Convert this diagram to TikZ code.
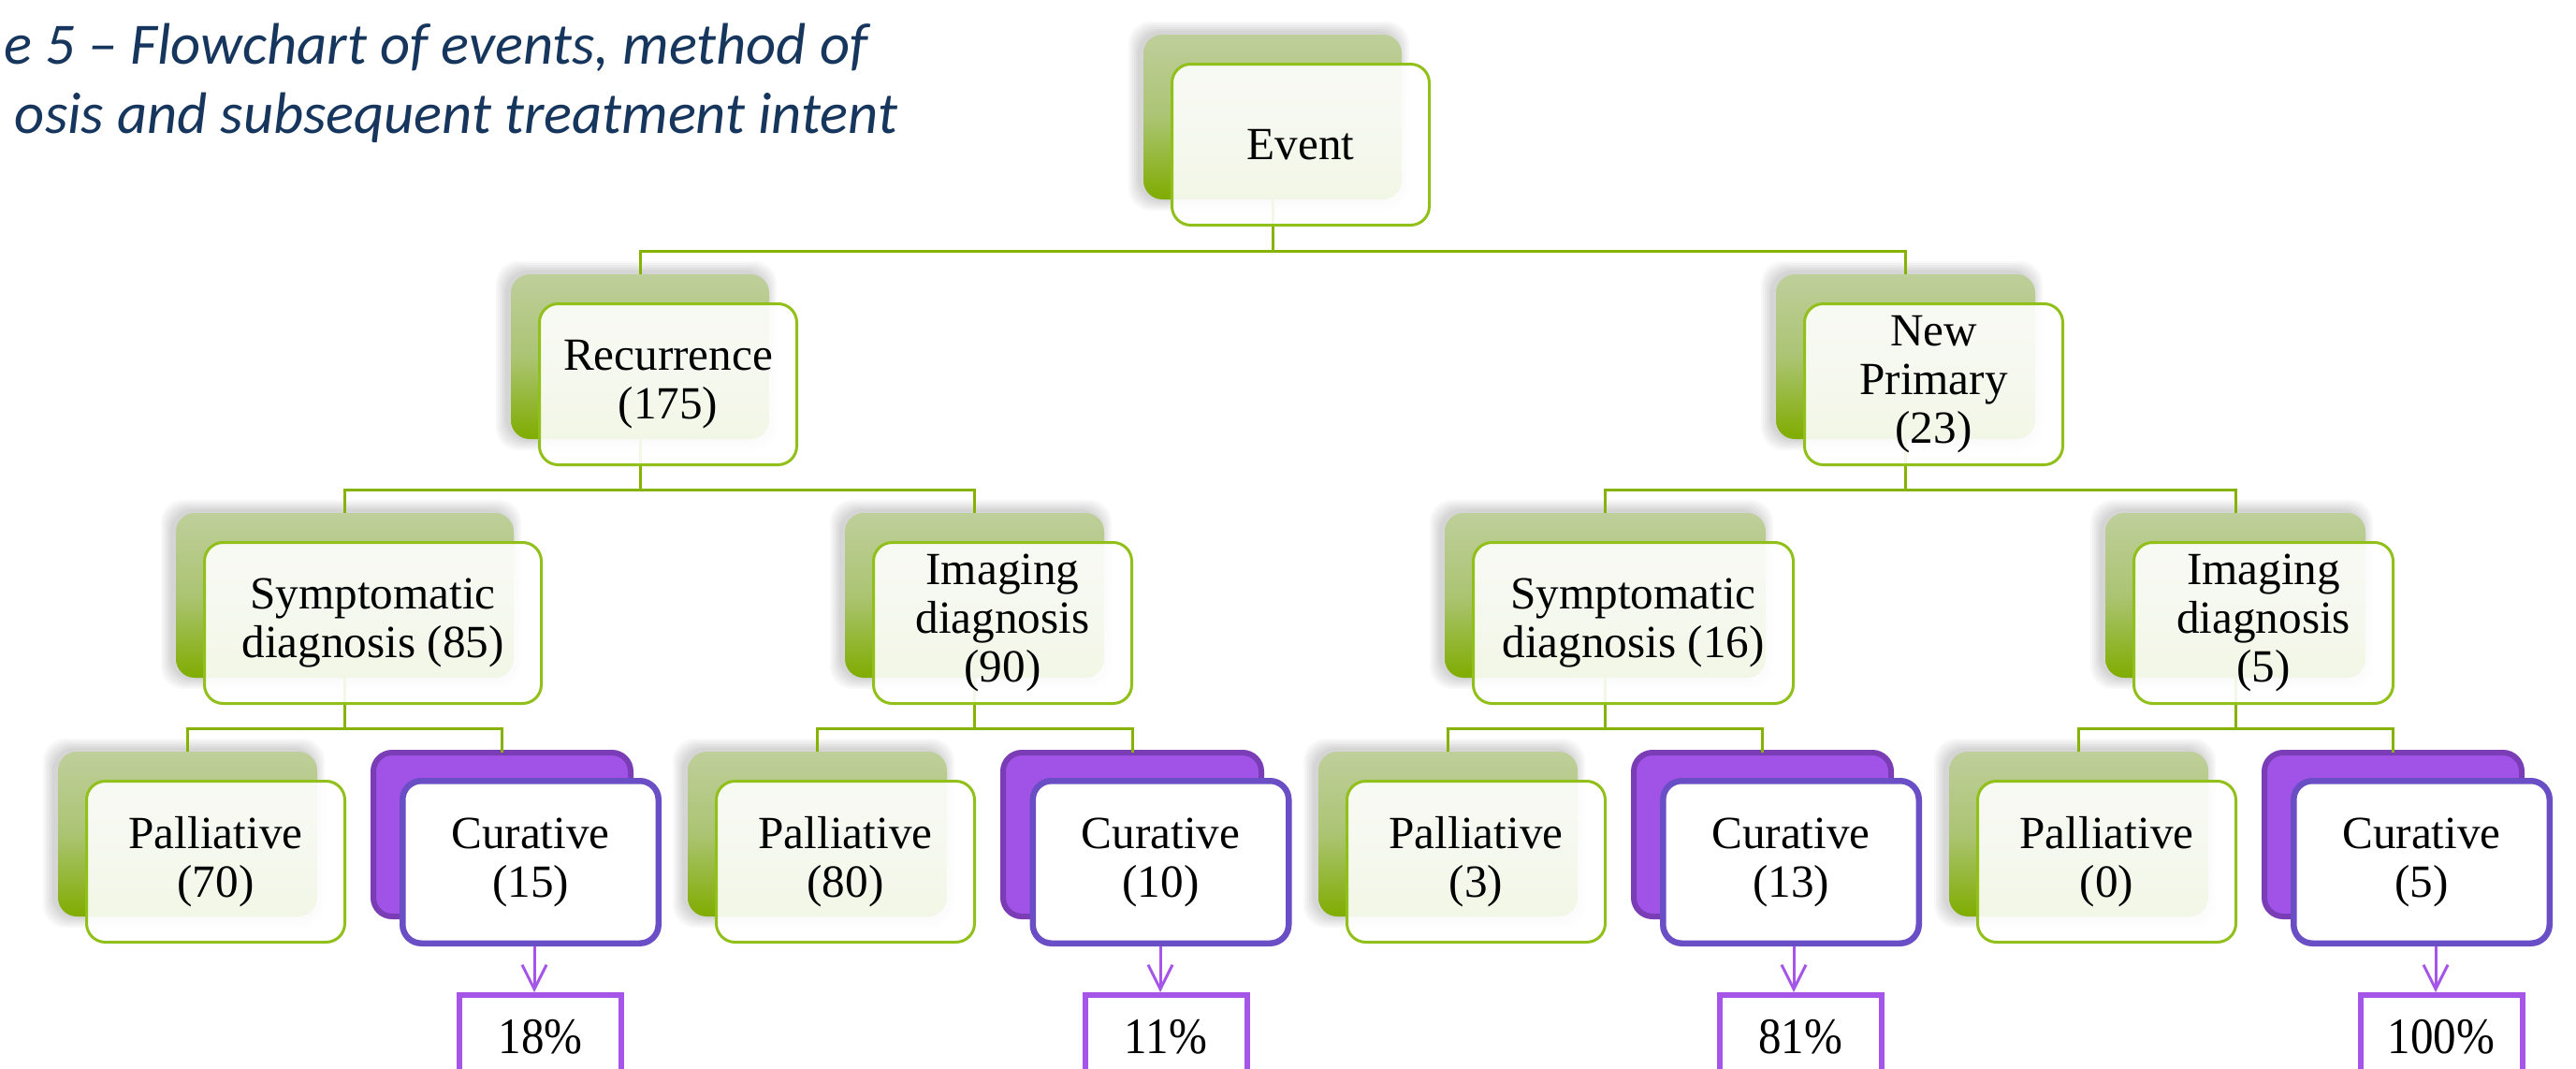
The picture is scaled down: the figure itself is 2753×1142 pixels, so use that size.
\documentclass[tikz,border=0pt]{standalone}
\usepackage{fontspec}
\setmainfont{Liberation Serif}
\newfontfamily\titlefont{Carlito}
\newfontfamily\pctfont{Liberation Serif}[FakeStretch=0.9]
\usetikzlibrary{arrows.meta}
\definecolor{gtop}{HTML}{BFCF9B}
\definecolor{gmid}{HTML}{ABC473}
\definecolor{gbot}{HTML}{7FAC00}
\definecolor{gborder}{HTML}{92C01A}
\definecolor{gline}{HTML}{86B300}
\definecolor{pfill}{HTML}{A053E6}
\definecolor{pborder}{HTML}{7A3DB6}
\definecolor{pfborder}{HTML}{6A4EC6}
\definecolor{pct}{HTML}{A556E8}
\definecolor{titlecol}{HTML}{17365D}
\newcommand\gb[4]{%
  \foreach \s in {1,...,6}{\fill[black,opacity=0.028,rounded corners=2.4mm] ({#2-#4/2-4-2*\s},{#3-88-2-2*\s}) rectangle ({#2+#4/2-4+2*\s},{#3+88+2*\s});}
  \node[gback, minimum width=#4*0.1mm] (b#1) at (#2,#3) {};}
\newcommand\pb[4]{\node[pback, minimum width=#4*0.1mm] (b#1) at (#2,#3) {};}
\newcommand\gf[3]{\node[gfront, minimum width={(#2-1)*0.1mm}] (f#1) at ([xshift=3mm,yshift=-2.95mm]b#1.center) {#3};}
\newcommand\pf[2]{\node[pfront] (f#1) at ([xshift=3.05mm,yshift=-2.95mm]b#1.center) {#2};}
\newcommand\conn[3]{%
  \draw[conn] (b#1.south) |- ([yshift=2.5mm]b#2.north) -- (b#2.north);
  \draw[conn] ([yshift=2.5mm]b#2.north) -| (b#3.north);}
\begin{document}
\begin{tikzpicture}[x=0.1mm,y=-0.1mm,
  gback/.style={rounded corners=2mm, inner sep=0pt, outer sep=0pt, minimum height=17.6mm,
    top color=gtop, bottom color=gbot, middle color=gmid},
  pback/.style={draw=pborder, line width=0.6mm, fill=pfill, rounded corners=2mm,
    inner sep=0pt, outer sep=0pt, minimum height=17.5mm},
  gfront/.style={draw=gborder, line width=0.3mm, fill=white, fill opacity=0.9, text opacity=1,
    rounded corners=2mm, inner sep=0pt, minimum height=17.2mm, align=center,
    font=\fontsize{14}{14.8}\selectfont},
  pfront/.style={draw=pfborder, line width=0.65mm, fill=white, rounded corners=2mm,
    inner sep=0pt, minimum width=27.35mm, minimum height=17.35mm, align=center,
    font=\fontsize{14}{14.8}\selectfont},
  conn/.style={draw=gline, line width=0.3mm},
  arr/.style={draw=pct, line width=0.3mm, -{Straight Barb[length=2.6mm,width=2.6mm,line width=0.3mm]}},
  pctbox/.style={draw=pct, line width=0.6mm, fill=white, inner sep=0pt, anchor=north,
    minimum width=17.3mm, minimum height=9mm, font=\pctfont\fontsize{15.5}{16}\selectfont},
  title/.style={text=titlecol, inner sep=0pt, anchor=base east,
    font=\titlefont\itshape\fontsize{17.8}{20}\selectfont}]
\useasboundingbox (0,0) rectangle (2753,1142);
\clip (0,0) rectangle (2753,1142);
\fill[white] (0,0) rectangle (2753,1142);
% back boxes
\gb{Ev}{1360}{125}{276}
\gb{Rec}{684}{381}{276}
\gb{NP}{2036.5}{381}{277}
\gb{S85}{368.5}{636}{361}
\gb{I90}{1041.5}{636}{277}
\gb{S16}{1715.5}{636}{343}
\gb{I5}{2389}{636}{278}
\gb{P70}{200.5}{891}{277}
\pb{C15}{536.5}{891.5}{275}
\gb{P80}{873.5}{891}{277}
\pb{C10}{1210}{891.5}{276}
\gb{P3}{1547.5}{891}{277}
\pb{C13}{1883.5}{891.5}{275}
\gb{P0}{2221.5}{891}{277}
\pb{C5}{2557.5}{891.5}{275}
% connectors
\conn{Ev}{Rec}{NP}
\conn{Rec}{S85}{I90}
\conn{NP}{S16}{I5}
\conn{S85}{P70}{C15}
\conn{I90}{P80}{C10}
\conn{S16}{P3}{C13}
\conn{I5}{P0}{C5}
% front boxes
\gf{Ev}{276}{Event}
\gf{Rec}{276}{Recurrence\\(175)}
\gf{NP}{277}{New\\Primary\\(23)}
\gf{S85}{361}{Symptomatic\\diagnosis (85)}
\gf{I90}{277}{Imaging\\diagnosis\\(90)}
\gf{S16}{343}{Symptomatic\\diagnosis (16)}
\gf{I5}{278}{Imaging\\diagnosis\\(5)}
\gf{P70}{277}{Palliative\\(70)}
\pf{C15}{Curative\\(15)}
\gf{P80}{277}{Palliative\\(80)}
\pf{C10}{Curative\\(10)}
\gf{P3}{277}{Palliative\\(3)}
\pf{C13}{Curative\\(13)}
\gf{P0}{277}{Palliative\\(0)}
\pf{C5}{Curative\\(5)}
% percentage boxes
\node[pctbox] (p1) at (577.5,1060) {18\%};
\node[pctbox] (p2) at (1246,1060) {11\%};
\node[pctbox] (p3) at (1924,1060) {81\%};
\node[pctbox] (p4) at (2609,1060) {100\%};
\coordinate (a1) at (571,0);
\coordinate (a2) at (1240,0);
\coordinate (a3) at (1917,0);
\coordinate (a4) at (2603,0);
\draw[arr] (fC15.south -| a1) -- (p1.north -| a1);
\draw[arr] (fC10.south -| a2) -- (p2.north -| a2);
\draw[arr] (fC13.south -| a3) -- (p3.north -| a3);
\draw[arr] (fC5.south -| a4) -- (p4.north -| a4);
% title
\node[title] (t1) at (928,68) {e 5 – Flowchart of events, method of};
\node[title] (t2) at (960,143) {osis and subsequent treatment intent};
\end{tikzpicture}
\end{document}
